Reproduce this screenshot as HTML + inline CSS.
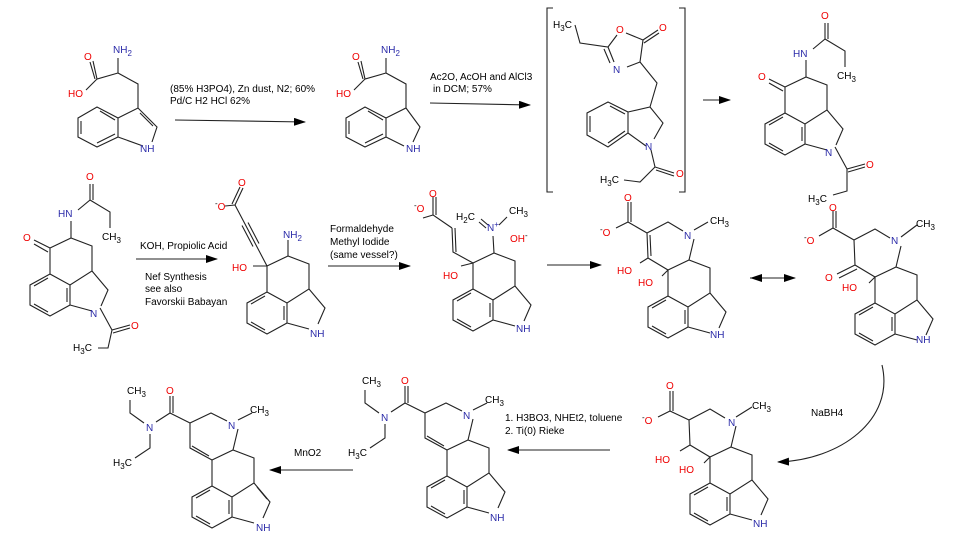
<!DOCTYPE html>
<html><head><meta charset="utf-8"><style>
html,body{margin:0;padding:0;background:#fff}
svg{display:block}
text{font-family:"Liberation Sans",sans-serif;font-size:10px;fill:#000}
.a{font-size:11px}
.r{fill:#e00}
.b{fill:#2a2aa8}
.s{font-size:8px}
</style></head><body>
<svg width="971" height="550" viewBox="0 0 971 550" xmlns="http://www.w3.org/2000/svg">
<defs>
<marker id="ah" markerWidth="12" markerHeight="8" refX="11" refY="4" orient="auto" markerUnits="userSpaceOnUse"><path d="M0,0L12,4L0,8Z" fill="#000"/></marker>
<path id="core" d="M0,0L21,-10L42,-2L42,23L20,37L0,26Z M0,26L-20,37L-20,57L0,68L20,57L20,37 M42,23L58,42L51,58 M42,63L20,57 M-2,30L-16,38 M-16,56L-2,64 M17,40L17,54"/>
</defs>
<g fill="none" stroke="#222" stroke-width="1.1">
<!-- S1 tryptophan -->
<path d="M78,118L97,107L118,118L118,137L97,147L78,137Z M81,121L81,134 M97,143L115,134 M100,111L115,120 M118,118L138,108L157,127L152,142 M143,146L118,137 M140,113L153,126 M138,108L138,84L118,73L118,58 M118,73L97,79L93,61 M95,79L90,62 M97,79L86,90"/>
<!-- S2 -->
<path d="M346,118L365,107L386,118L386,137L365,147L346,137Z M349,121L349,134 M365,143L383,134 M368,111L383,120 M386,118L406,108L420,127L413,142 M404,146L386,137 M406,108L406,84L386,73L386,58 M386,73L365,79L361,61 M363,79L358,62 M365,79L354,90"/>
<!-- S3 oxazolone -->
<path d="M575,25L580,43L608,47L617,35 M626,33L643,40L658,30 M644,43L659,33 M643,40L640,62L627,67 M608,47L614,62 M604,49L610,63 M640,62L657,83L650,107 M608,102L628,112L628,133L608,147L587,135L587,113Z M590,116L590,132 M608,143L625,131 M610,106L625,114 M628,112L650,107L663,123L654,139 M646,146L628,133 M651,150L655,167L674,173 M656,170L674,176 M655,167L640,182L624,180"/>
<path d="M553,8L547,8L547,192L553,192 M679,8L685,8L685,192L679,192"/>
<!-- S4 ketone (row1) -->
<g transform="translate(785,87)">
<use href="#core"/>
<path d="M0,0L-16,-8 M-2,4L-16,-4 M21,-10L21,-27 M28,-38L40,-48L40,-64 M43,-48L43,-64 M40,-48L60,-36L60,-20 M50,60L62,82L80,77 M63,85L80,80 M62,82L62,104L48,108"/>
</g>
<g transform="translate(50,248)">
<use href="#core"/>
<path d="M0,0L-16,-8 M-2,4L-16,-4 M21,-10L21,-27 M28,-38L40,-48L40,-64 M43,-48L43,-64 M40,-48L60,-36L60,-20 M50,60L62,82L80,77 M63,85L80,80 M62,82L58,100L48,100"/>
</g>
<!-- S5 alkyne -->
<g transform="translate(267,266)">
<use href="#core"/>
<path d="M0,0L-14,0 M21,-10L21,-26 M0,0L-11,-21 M-11,-21L-22,-42 M-8,-22.5L-19,-43.5 M-14,-19.5L-25,-40.5 M-22,-42L-32,-61 M-32,-61L-24,-78 M-35,-62L-27,-79 M-32,-61L-42,-60"/>
</g>
<!-- S6 -->
<g transform="translate(473,263)">
<use href="#core"/>
<path d="M0,0L-12,3 M0,0L-20,-11L-21,-35 M-17,-11L-18,-35 M-21,-35L-40,-48L-40,-66 M-37,-48L-37,-66 M-40,-48L-50,-45 M21,-10L20,-27 M15,-38L8,-44 M13,-35L6,-41 M26,-38L34,-46"/>
</g>
<!-- S7 -->
<g transform="translate(668,270)">
<use href="#core"/>
<path d="M0,0L-20,-12L-21,-37L0,-48L15,-39 M26,-31L21,-10 M-17,-14L-18,-35 M-20,-12L-28,-7 M0,0L-6,6 M-21,-37L-40,-48L-40,-68 M-37,-48L-37,-68 M-40,-48L-52,-42 M26,-40L40,-48"/>
</g>
<!-- S8 -->
<g transform="translate(875,277)">
<use href="#core"/>
<path d="M0,0L-20,-12L-21,-37L0,-48L15,-39 M26,-31L21,-10 M-20,-12L-38,-3 M-18,-8L-36,1 M0,0L-6,6 M-21,-37L-42,-49L-42,-66 M-39,-49L-39,-66 M-42,-49L-56,-41 M26,-40L42,-52"/>
</g>
<!-- S9 -->
<g transform="translate(710,457)">
<use href="#core"/>
<path d="M0,0L-20,-12L-21,-37L0,-48L15,-39 M26,-31L21,-10 M-20,-12L-30,-6 M0,0L-6,6 M-21,-37L-40,-46L-40,-66 M-37,-46L-37,-66 M-40,-46L-52,-40 M26,-40L42,-50"/>
</g>
<!-- S10 middle amide -->
<g transform="translate(447,450)">
<use href="#core"/>
<path d="M0,0L-22,-12L-22,-37L-1,-47L15,-39 M26,-31L21,-10 M-3,-4L-20,-14 M-22,-37L-42,-47L-42,-64 M-39,-47L-39,-64 M-42,-47L-56,-38 M-62,-26L-62,-12L-77,-2 M-68,-37L-82,-47L-82,-60 M26,-40L40,-47"/>
</g>
<!-- S11 LSD -->
<g transform="translate(212,460)">
<use href="#core"/>
<path d="M45,27L55,39 M0,0L-22,-12L-22,-37L-1,-47L15,-39 M26,-31L21,-10 M-3,-4L-20,-14 M-22,-37L-42,-47L-42,-64 M-39,-47L-39,-64 M-42,-47L-56,-38 M-62,-26L-62,-12L-77,-2 M-68,-37L-82,-47L-82,-60 M26,-40L40,-47"/>
</g>
</g>
<!-- arrows -->
<g stroke="#222" stroke-width="1.1" fill="none">
<line x1="175" y1="120" x2="305" y2="122" marker-end="url(#ah)"/>
<line x1="430" y1="103" x2="530" y2="105" marker-end="url(#ah)"/>
<line x1="703" y1="100" x2="730" y2="100" marker-end="url(#ah)"/>
<line x1="136" y1="259" x2="217" y2="259" marker-end="url(#ah)"/>
<line x1="328" y1="266" x2="410" y2="266" marker-end="url(#ah)"/>
<line x1="547" y1="265" x2="601" y2="265" marker-end="url(#ah)"/>
<line x1="750" y1="278" x2="795" y2="278" marker-end="url(#ah)"/>
<path d="M882,365C895,420 840,460 778,462" marker-end="url(#ah)"/>
<line x1="610" y1="450" x2="508" y2="450" marker-end="url(#ah)"/>
<line x1="353" y1="470" x2="270" y2="470" marker-end="url(#ah)"/>
</g>
<path d="M750,278L762,274L762,282Z" fill="#000"/>
<!-- labels -->
<text x="170" y="92">(85% H3PO4), Zn dust, N2; 60%</text>
<text x="170" y="104">Pd/C H2 HCl  62%</text>
<text x="430" y="80">Ac2O, AcOH and AlCl3</text>
<text x="433" y="92">in DCM; 57%</text>
<text x="140" y="249">KOH, Propiolic Acid</text>
<text x="145" y="280">Nef Synthesis</text>
<text x="145" y="292">see also</text>
<text x="145" y="305">Favorskii Babayan</text>
<text x="330" y="232">Formaldehyde</text>
<text x="330" y="245">Methyl Iodide</text>
<text x="330" y="258">(same vessel?)</text>
<text x="811" y="416">NaBH4</text>
<text x="505" y="421">1. H3BO3, NHEt2, toluene</text>
<text x="505" y="434">2. Ti(0) Rieke</text>
<text x="294" y="456">MnO2</text>

<g class="a">
<text x="113" y="53" class="b">NH<tspan class="s" dy="3">2</tspan></text>
<text x="84" y="60" class="r">O</text>
<text x="68" y="97" class="r">HO</text>
<text x="140" y="152" class="b">NH</text>
<text x="381" y="53" class="b">NH<tspan class="s" dy="3">2</tspan></text>
<text x="352" y="60" class="r">O</text>
<text x="336" y="97" class="r">HO</text>
<text x="406" y="152" class="b">NH</text>
<!-- S3 -->
<text x="553" y="28">H<tspan class="s" dy="3">3</tspan><tspan dy="-3">C</tspan></text>
<text x="616" y="33" class="r">O</text>
<text x="659" y="31" class="r">O</text>
<text x="613" y="73" class="b">N</text>
<text x="645" y="150" class="b">N</text>
<text x="676" y="177" class="r">O</text>
<text x="600" y="183">H<tspan class="s" dy="3">3</tspan><tspan dy="-3">C</tspan></text>
<!-- S4 -->
<text x="758" y="80" class="r">O</text>
<text x="793" y="57" class="b">HN</text>
<text x="821" y="19" class="r">O</text>
<text x="837" y="79">CH<tspan class="s" dy="3">3</tspan></text>
<text x="825" y="156" class="b">N</text>
<text x="866" y="168" class="r">O</text>
<text x="808" y="202">H<tspan class="s" dy="3">3</tspan><tspan dy="-3">C</tspan></text>
<!-- row2 ketone -->
<text x="23" y="241" class="r">O</text>
<text x="58" y="217" class="b">HN</text>
<text x="86" y="180" class="r">O</text>
<text x="102" y="240">CH<tspan class="s" dy="3">3</tspan></text>
<text x="90" y="317" class="b">N</text>
<text x="131" y="329" class="r">O</text>
<text x="73" y="351">H<tspan class="s" dy="3">3</tspan><tspan dy="-3">C</tspan></text>
<!-- S5 -->
<text x="232" y="271" class="r">HO</text>
<text x="283" y="238" class="b">NH<tspan class="s" dy="3">2</tspan></text>
<text x="238" y="186" class="r">O</text>
<text x="215" y="210" class="r"><tspan class="s" dy="-4" style="fill:#000">-</tspan><tspan dy="4">O</tspan></text>
<text x="310" y="337" class="b">NH</text>
<!-- S6 -->
<text x="443" y="279" class="r">HO</text>
<text x="487" y="231" class="b">N<tspan class="s" dy="-4">+</tspan></text>
<text x="456" y="220">H<tspan class="s" dy="3">2</tspan><tspan dy="-3">C</tspan></text>
<text x="509" y="214">CH<tspan class="s" dy="3">3</tspan></text>
<text x="510" y="242" class="r">OH<tspan class="s" dy="-4" style="fill:#000">-</tspan></text>
<text x="429" y="197" class="r">O</text>
<text x="414" y="212" class="r"><tspan class="s" dy="-4" style="fill:#000">-</tspan><tspan dy="4">O</tspan></text>
<text x="516" y="332" class="b">NH</text>
<!-- S7 -->
<text x="624" y="201" class="r">O</text>
<text x="600" y="236" class="r"><tspan class="s" dy="-4" style="fill:#000">-</tspan><tspan dy="4">O</tspan></text>
<text x="684" y="239" class="b">N</text>
<text x="710" y="224">CH<tspan class="s" dy="3">3</tspan></text>
<text x="617" y="274" class="r">HO</text>
<text x="638" y="286" class="r">HO</text>
<text x="710" y="338" class="b">NH</text>
<!-- S8 -->
<text x="829" y="211" class="r">O</text>
<text x="804" y="244" class="r"><tspan class="s" dy="-4" style="fill:#000">-</tspan><tspan dy="4">O</tspan></text>
<text x="891" y="244" class="b">N</text>
<text x="916" y="227">CH<tspan class="s" dy="3">3</tspan></text>
<text x="825" y="281" class="r">O</text>
<text x="842" y="291" class="r">HO</text>
<text x="916" y="343" class="b">NH</text>
<!-- S9 -->
<text x="666" y="389" class="r">O</text>
<text x="642" y="424" class="r"><tspan class="s" dy="-4" style="fill:#000">-</tspan><tspan dy="4">O</tspan></text>
<text x="728" y="426" class="b">N</text>
<text x="752" y="409">CH<tspan class="s" dy="3">3</tspan></text>
<text x="655" y="463" class="r">HO</text>
<text x="679" y="473" class="r">HO</text>
<text x="753" y="527" class="b">NH</text>
<!-- S10 -->
<text x="401" y="384" class="r">O</text>
<text x="381" y="421" class="b">N</text>
<text x="362" y="384">CH<tspan class="s" dy="3">3</tspan></text>
<text x="348" y="456">H<tspan class="s" dy="3">3</tspan><tspan dy="-3">C</tspan></text>
<text x="463" y="419" class="b">N</text>
<text x="485" y="403">CH<tspan class="s" dy="3">3</tspan></text>
<text x="490" y="521" class="b">NH</text>
<!-- S11 -->
<text x="166" y="394" class="r">O</text>
<text x="146" y="431" class="b">N</text>
<text x="127" y="394">CH<tspan class="s" dy="3">3</tspan></text>
<text x="113" y="466">H<tspan class="s" dy="3">3</tspan><tspan dy="-3">C</tspan></text>
<text x="228" y="429" class="b">N</text>
<text x="250" y="413">CH<tspan class="s" dy="3">3</tspan></text>
<text x="256" y="531" class="b">NH</text>
</g>
</svg>
</body></html>
